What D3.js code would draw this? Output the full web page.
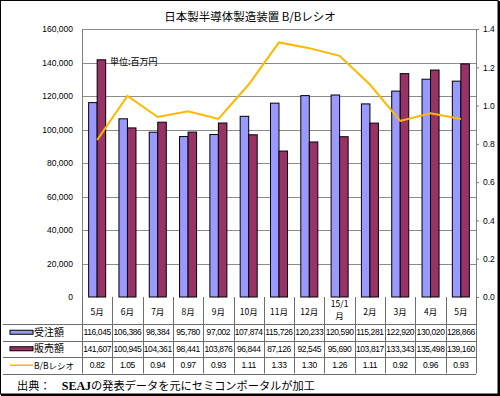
<!DOCTYPE html>
<html>
<head>
<meta charset="utf-8">
<script src="https://cdn.jsdelivr.net/npm/d3@7"></script>
<style>
  body { margin: 0; background: #fff; }
  text { font-family: "Liberation Sans", Arial, sans-serif; }
  .jp { font-family: "Noto Sans CJK JP", sans-serif; }
</style>
</head>
<body>
<div id="chart"></div>
<script>
// data
const months = ['5月', '6月', '7月', '8月', '9月', '10月', '11月', '12月', '15/1\n月', '2月', '3月', '4月', '5月'];
const orders = [116045, 106386, 98384, 95780, 97002, 107874, 115726, 120233, 120590, 115281, 122920, 130020, 128866];
const sales = [141607, 100945, 104361, 98441, 103876, 96844, 87126, 92545, 95690, 103817, 133343, 135498, 139160];
const bbRatio = [0.82, 1.05, 0.94, 0.97, 0.93, 1.11, 1.33, 1.30, 1.26, 1.11, 0.92, 0.96, 0.93];
const leftTicks = [0, 20000, 40000, 60000, 80000, 100000, 120000, 140000, 160000];
const rightTicks = [0, 0.2, 0.4, 0.6, 0.8, 1.0, 1.2, 1.4];

const width = 500, height = 396;
const margin = { top: 29, right: 24, bottom: 99, left: 82 };
const plotW = width - margin.left - margin.right;
const plotBottom = height - margin.bottom;

const svg = d3.select('#chart').append('svg')
  .attr('width', width)
  .attr('height', height);

svg.append('rect').attr('x', 0).attr('y', 0).attr('width', width).attr('height', height).attr('fill', '#fff');

// outer frame with a heavier right/bottom edge
svg.append('rect').attr('x', 0.5).attr('y', 0.5).attr('width', width - 2.5).attr('height', height - 2.5)
  .attr('fill', 'none').attr('stroke', '#000').attr('stroke-width', 1);
svg.append('line').attr('x1', width - 1).attr('x2', width - 1).attr('y1', 1).attr('y2', height).attr('stroke', '#000').attr('stroke-width', 2);
svg.append('line').attr('x1', 1).attr('x2', width).attr('y1', height - 1).attr('y2', height - 1).attr('stroke', '#000').attr('stroke-width', 2);

// Scales
const x = d3.scaleBand()
  .domain(d3.range(months.length))
  .range([margin.left, margin.left + plotW]);

const inner = d3.scaleBand()
  .domain(['orders', 'sales'])
  .range([0, x.bandwidth()])
  .paddingInner(0)
  .paddingOuter(0.78);

const y = d3.scaleLinear().domain([0, 160000]).range([plotBottom, margin.top]);
const y2 = d3.scaleLinear().domain([0, 1.4]).range([plotBottom, margin.top]);

// Title
svg.append('text')
  .attr('class', 'jp')
  .attr('x', 250).attr('y', 21)
  .attr('text-anchor', 'middle')
  .style('font-size', '11.5px')
  .text('日本製半導体製造装置 B/Bレシオ');

// Gridlines
svg.append('g').selectAll('line')
  .data(leftTicks.slice(1))
  .enter().append('line')
  .attr('x1', margin.left).attr('x2', margin.left + plotW)
  .attr('y1', d => Math.round(y(d)) + 0.5).attr('y2', d => Math.round(y(d)) + 0.5)
  .attr('stroke', '#8c8c8c').attr('stroke-width', 1);

// Left axis
const leftAxis = svg.append('g')
  .attr('transform', `translate(${margin.left},0)`)
  .call(d3.axisLeft(y).tickValues(leftTicks).tickFormat(d3.format(',')).tickSize(0).tickPadding(9));
leftAxis.select('.domain').attr('stroke', '#808080');
leftAxis.selectAll('text').style('font-size', '8.5px').attr('fill', '#000');

// Right axis
const rightAxis = svg.append('g')
  .attr('transform', `translate(${margin.left + plotW},0)`)
  .call(d3.axisRight(y2).tickValues(rightTicks).tickFormat(d3.format('.1f')).tickSize(3).tickPadding(4));
rightAxis.select('.domain').attr('stroke', '#808080');
rightAxis.selectAll('.tick line').attr('stroke', '#808080');
rightAxis.selectAll('text').style('font-size', '8.5px').attr('fill', '#000');

// Bars
const groups = svg.append('g').selectAll('g')
  .data(months.map((m, i) => ({ i, orders: orders[i], sales: sales[i] })))
  .enter().append('g')
  .attr('transform', d => `translate(${x(d.i)},0)`);

groups.append('rect')
  .attr('x', inner('orders'))
  .attr('y', d => y(d.orders))
  .attr('width', inner.bandwidth())
  .attr('height', d => plotBottom - y(d.orders))
  .attr('fill', '#9999ff').attr('stroke', '#000').attr('stroke-width', 1);

groups.append('rect')
  .attr('x', inner('sales'))
  .attr('y', d => y(d.sales))
  .attr('width', inner.bandwidth())
  .attr('height', d => plotBottom - y(d.sales))
  .attr('fill', '#993366').attr('stroke', '#000').attr('stroke-width', 1);

// B/B line
const line = d3.line()
  .x((d, i) => x(i) + x.bandwidth() / 2)
  .y(d => y2(d));

svg.append('path')
  .datum(bbRatio)
  .attr('d', line)
  .attr('fill', 'none')
  .attr('stroke', '#ffb800')
  .attr('stroke-width', 2);

// Unit label
svg.append('text')
  .attr('class', 'jp')
  .attr('x', 110).attr('y', 65)
  .style('font-size', '9px')
  .text('単位:百万円');

// Data table
const rowTop = plotBottom;
const catBottom = 324;
const rowH = 16.5;
const tableLeft = 3;
const tableRight = margin.left + plotW;
const gridColor = '#6e6e6e';

const table = svg.append('g');

// horizontal lines
[0, 1, 2, 3].forEach(k => {
  const yy = Math.round(catBottom + k * rowH) + 0.5;
  table.append('line').attr('x1', tableLeft).attr('x2', tableRight)
    .attr('y1', yy).attr('y2', yy).attr('stroke', gridColor);
});

// vertical lines
d3.range(months.length + 1).forEach(k => {
  const xx = Math.round(margin.left + k * x.bandwidth()) + 0.5;
  table.append('line').attr('x1', xx).attr('x2', xx)
    .attr('y1', rowTop).attr('y2', catBottom + 3 * rowH)
    .attr('stroke', gridColor);
});

// category labels
months.forEach((m, i) => {
  const parts = m.split('\n');
  const cx = x(i) + x.bandwidth() / 2;
  parts.forEach((p, j) => {
    table.append('text')
      .attr('class', 'jp')
      .attr('x', cx)
      .attr('y', parts.length === 1 ? 315 : 307 + j * 12)
      .attr('text-anchor', 'middle')
      .style('font-size', '8.5px')
      .text(p);
  });
});

// values
const fmt = d3.format(',');
const rows = [
  { name: '受注額', values: orders.map(fmt) },
  { name: '販売額', values: sales.map(fmt) },
  { name: 'B/Bレシオ', values: bbRatio.map(d3.format('.2f')) }
];

rows.forEach((r, k) => {
  const midY = catBottom + k * rowH + rowH / 2;
  r.values.forEach((v, i) => {
    table.append('text')
      .attr('x', x(i) + x.bandwidth() / 2)
      .attr('y', midY + 3)
      .attr('text-anchor', 'middle')
      .style('font-size', '8.5px')
      .style('letter-spacing', '-0.4px')
      .text(v);
  });
  // legend key
  if (k < 2) {
    table.append('rect')
      .attr('x', 10).attr('y', midY - 2).attr('width', 23).attr('height', 4)
      .attr('fill', k === 0 ? '#9999ff' : '#993366')
      .attr('stroke', '#000').attr('stroke-width', 1);
  } else {
    table.append('line')
      .attr('x1', 10).attr('x2', 33).attr('y1', midY).attr('y2', midY)
      .attr('stroke', '#ffb800').attr('stroke-width', 1.5);
  }
  table.append('text')
    .attr('class', 'jp')
    .attr('x', 34)
    .attr('y', midY + 3.5)
    .style('font-size', k < 2 ? '10px' : '8.5px')
    .text(r.name);
});

// Source
const src = svg.append('text')
  .attr('class', 'jp')
  .attr('x', 17).attr('y', 390)
  .style('font-size', '11.2px');
src.append('tspan').text('出典：　');
src.append('tspan')
  .style('font-family', '"Liberation Serif", "DejaVu Serif", serif')
  .style('font-weight', 'bold')
  .style('font-size', '12px')
  .text('SEAJ');
src.append('tspan').text('の発表データを元にセミコンポータルが加工');
</script>
</body>
</html>
